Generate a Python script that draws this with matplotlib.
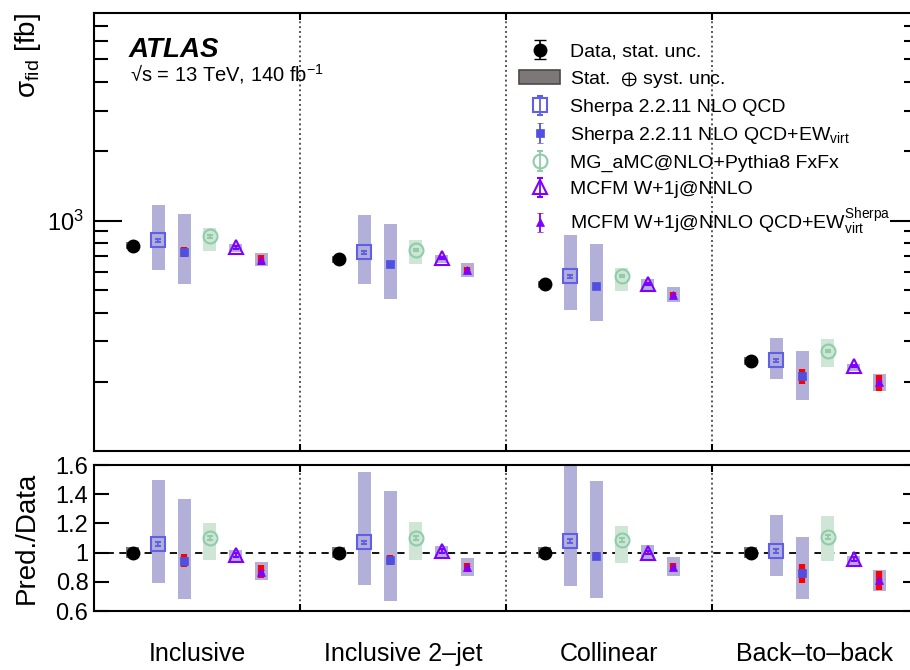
import numpy as np
import matplotlib
matplotlib.use("Agg")
import matplotlib.pyplot as plt
from matplotlib.patches import Patch
from matplotlib.ticker import NullFormatter, FixedLocator

plt.rcParams['font.family'] = ['Liberation Sans', 'DejaVu Sans']
plt.rcParams['mathtext.fontset'] = 'custom'
plt.rcParams['mathtext.rm'] = 'Liberation Sans'
plt.rcParams['mathtext.it'] = 'Liberation Sans:italic'
plt.rcParams['mathtext.bf'] = 'Liberation Sans:bold'
plt.rcParams['mathtext.fallback'] = 'stixsans'

# ── Data ──
categories = ['Inclusive', 'Inclusive 2–jet', 'Collinear', 'Back–to–back']

data_xsec = np.array([778, 681, 531, 246])        # fb
data_stat_rel = np.array([0.01, 0.01, 0.012, 0.02])
data_tot_rel = np.array([0.035, 0.035, 0.035, 0.04])

# predictions as ratio to data: central, band low, band high
sherpa_ratio = np.array([1.057, 1.07, 1.08, 1.01])
sherpa_lo = np.array([0.79, 0.78, 0.77, 0.84])
sherpa_hi = np.array([1.50, 1.55, 1.64, 1.26])

sherpa_ew_ratio = np.array([0.943, 0.95, 0.98, 0.86])
sherpa_ew_lo = np.array([0.685, 0.67, 0.69, 0.68])
sherpa_ew_hi = np.array([1.37, 1.42, 1.49, 1.11])
sherpa_ew_red = np.array([0.045, 0.035, 0.025, 0.065])

mg_ratio = np.array([1.099, 1.10, 1.085, 1.107])
mg_lo = np.array([0.948, 0.95, 0.93, 0.943])
mg_hi = np.array([1.20, 1.21, 1.18, 1.25])

mcfm_ratio = np.array([0.985, 1.01, 1.0, 0.955])
mcfm_lo = np.array([0.94, 0.965, 0.94, 0.91])
mcfm_hi = np.array([1.02, 1.045, 1.05, 0.977])

mcfm_ew_ratio = np.array([0.87, 0.90, 0.90, 0.81])
mcfm_ew_lo = np.array([0.815, 0.84, 0.84, 0.74])
mcfm_ew_hi = np.array([0.936, 0.96, 0.97, 0.88])
mcfm_ew_red = np.array([0.045, 0.03, 0.028, 0.065])

mc_err_rel = 0.012

# ── Styles ──
band_purple = '#b2afd9'
band_green = '#cfe5d6'
grey_band = '#7d7878'
sherpa_col = '#5f5fe8'
sherpa_ew_col = '#5050e0'
mg_col = '#8fcca8'
mcfm_col = '#8000ff'

offsets = np.linspace(3 / 16, 13 / 16, 6)
band_w = 0.063
centers = np.arange(len(categories)) + 0.5

fig = plt.figure(figsize=(9.1, 6.7), dpi=100)
ax = fig.add_axes([94 / 910, 1 - 451 / 670, 824 / 910, 438 / 670])
axr = fig.add_axes([94 / 910, 1 - 611 / 670, 824 / 910, 146 / 670])

series = [
    # ratio, lo, hi, red, band colour, marker colour, marker, ms, mfc, mew, label
    (sherpa_ratio, sherpa_lo, sherpa_hi, None, band_purple, sherpa_col, 's', 10, 'none', 1.5,
     'Sherpa 2.2.11 NLO QCD'),
    (sherpa_ew_ratio, sherpa_ew_lo, sherpa_ew_hi, sherpa_ew_red, band_purple, sherpa_ew_col, 's', 5.5,
     sherpa_ew_col, 0.5, r'Sherpa 2.2.11 NLO QCD+EW$_{\mathrm{virt}}$'),
    (mg_ratio, mg_lo, mg_hi, None, band_green, mg_col, 'o', 10, 'none', 1.5,
     'MG_aMC@NLO+Pythia8 FxFx'),
    (mcfm_ratio, mcfm_lo, mcfm_hi, None, band_purple, mcfm_col, '^', 10.5, 'none', 1.5,
     'MCFM W+1j@NNLO'),
    (mcfm_ew_ratio, mcfm_ew_lo, mcfm_ew_hi, mcfm_ew_red, band_purple, mcfm_col, '^', 6, mcfm_col, 0.5,
     r'MCFM W+1j@NNLO QCD+EW$^{\mathrm{Sherpa}}_{\mathrm{virt}}$'),
]


def draw_panel(a, scale):
    """Draw all points; scale converts ratio units to panel units."""
    handles = []
    x0 = np.arange(len(categories)) + offsets[0]
    a.bar(x0, data_tot_rel * 2 * scale, bottom=(1 - data_tot_rel) * scale, width=band_w,
          color=grey_band, edgecolor='none', zorder=1)
    h = a.errorbar(x0, scale, yerr=data_stat_rel * scale, fmt='o', color='black', ms=9,
                   capsize=4, elinewidth=1.2, zorder=4, label='Data, stat. unc.')
    handles.append(h)
    handles.append(Patch(facecolor=grey_band, edgecolor='#4d4848', lw=1.2,
                         label=r'Stat.  $\oplus$ syst. unc.'))
    for k, (r, lo, hi, red, bcol, mcol, mk, ms, mfc, mew, lab) in enumerate(series):
        xs = np.arange(len(categories)) + offsets[k + 1]
        a.bar(xs, (hi - lo) * scale, bottom=lo * scale, width=band_w, color=bcol,
              edgecolor='none', zorder=1)
        if red is not None:
            a.errorbar(xs, r * scale, yerr=red * scale, fmt='none', ecolor='red',
                       elinewidth=4.5, zorder=2)
        h = a.errorbar(xs, r * scale, yerr=mc_err_rel * r * scale, fmt=mk, color=mcol,
                       mfc=mfc, mec=mcol, ms=ms, mew=mew, capsize=2.5, elinewidth=1.3,
                       zorder=3, label=lab)
        handles.append(h)
    for b in [1, 2, 3]:
        a.axvline(b, color='#555555', ls=(0, (1, 1.5)), lw=1.4, zorder=0)
    a.set_xlim(0, 4)
    for s in a.spines.values():
        s.set_linewidth(1.5)
    return handles


handles = draw_panel(ax, data_xsec)
draw_panel(axr, np.ones(len(categories)))

# ── Top panel axes ──
ax.set_yscale('log')
ax.set_ylim(100.5, 7950)
ax.yaxis.set_minor_formatter(NullFormatter())
ax.tick_params(axis='y', which='major', direction='in', length=20, width=1.5, right=True,
               labelsize=17, pad=7)
ax.tick_params(axis='y', which='minor', direction='in', length=10, width=1.5, right=True)
ax.set_xticks([1, 2, 3])
ax.set_xticklabels([])
ax.tick_params(axis='x', direction='in', length=5, width=1.5, top=True)
ax.set_ylabel(r'$\mathrm{σ}_{\mathrm{fid}}$ [fb]', fontsize=20, loc='top')
ax.yaxis.set_label_coords(-0.062, 1.0)

ax.text(0.0425, 0.8995, 'ATLAS', transform=ax.transAxes, fontsize=20, fontweight='bold',
        fontstyle='italic', va='baseline')
ax.text(0.044, 0.845, '√s = 13 TeV, 140 fb$^{-1}$', transform=ax.transAxes,
        fontsize=14.5, va='baseline')

ax.legend(handles=handles, loc='upper left', bbox_to_anchor=(0.516, 0.932), frameon=False,
          fontsize=14, handlelength=2.1, handletextpad=0.5, labelspacing=0.44,
          borderpad=0, borderaxespad=0)

# ── Ratio panel axes ──
axr.axhline(1, color='black', ls=(0, (4, 3)), lw=1.3, zorder=0)
axr.set_ylim(0.6, 1.6)
axr.set_yticks([0.6, 0.8, 1.0, 1.2, 1.4, 1.6])
axr.set_yticklabels(['0.6', '0.8', '1', '1.2', '1.4', '1.6'])
axr.tick_params(axis='y', direction='in', length=11, width=1.5, right=True, labelsize=17, pad=4)
axr.set_xticks(centers)
axr.set_xticklabels(categories, fontsize=18)
axr.tick_params(axis='x', which='major', length=0, pad=22)
axr.xaxis.set_minor_locator(FixedLocator([1, 2, 3]))
axr.tick_params(axis='x', which='minor', direction='in', length=5, width=1.5, top=True)
axr.set_ylabel('Pred./Data', fontsize=20)
axr.yaxis.set_label_coords(-0.066, 0.5)

fig.savefig('out.png', dpi=100)
